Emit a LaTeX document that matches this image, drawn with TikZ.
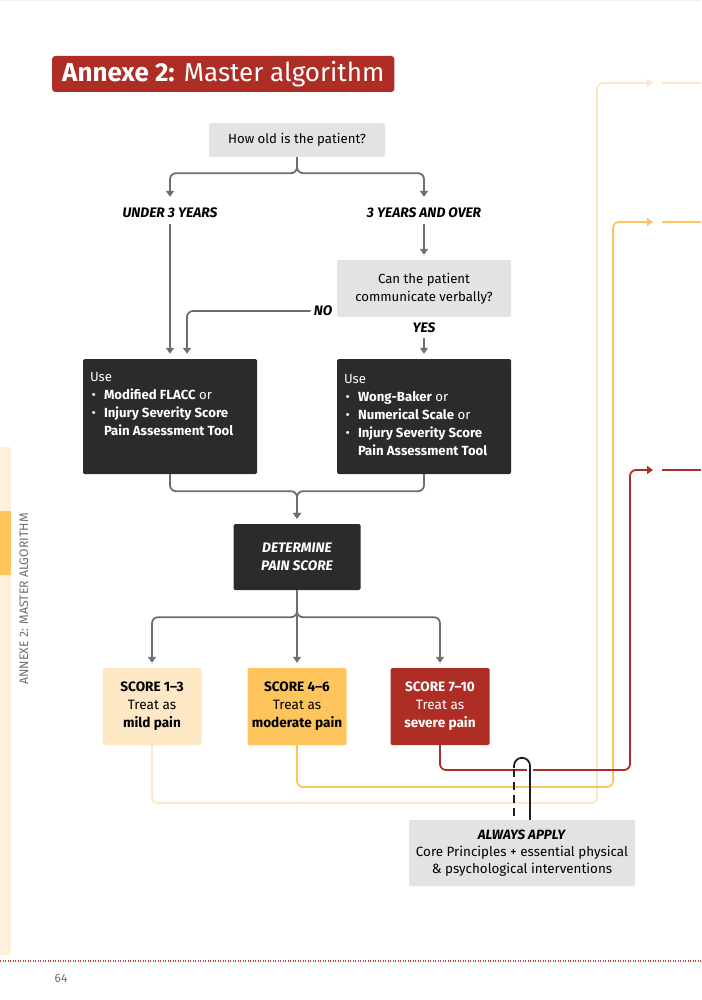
\documentclass[tikz,border=0pt]{standalone}
\usepackage{fontspec}
\setmainfont{Fira Sans}
\usepackage{xcolor}
\usetikzlibrary{positioning, arrows.meta, calc}

\definecolor{algored}{HTML}{AE2E26}
\definecolor{algodark}{HTML}{2B2B2B}
\definecolor{algogrey}{HTML}{E3E3E3}
\definecolor{algopeach}{HTML}{FDE7C4}
\definecolor{algoorange}{HTML}{FEC55D}
\definecolor{algoline}{HTML}{6E6E6E}
\definecolor{algoside}{HTML}{FEF1DB}
\definecolor{algotext}{HTML}{6F6F6F}
\definecolor{algoblack}{HTML}{1E1E1E}
\definecolor{algodots}{HTML}{C8463C}

\newcommand{\bodysize}{\fontsize{13.2}{18}\selectfont}
\newcommand{\pitem}[1]{\makebox[14pt][l]{\hspace{1.5pt}\textbullet}#1}
\newcommand{\pcont}[1]{\hspace*{14pt}#1}

\begin{document}
\begin{tikzpicture}[
    x=1pt, y=-1pt,
    every node/.style={font=\bodysize, inner sep=0pt},
    question/.style={fill=algogrey, rounded corners=1.5pt, align=center},
    toolbox/.style={fill=algodark, text=white, rounded corners=1.5pt, inner xsep=7pt, inner ysep=4pt},
    branch/.style={font=\fontsize{13.8}{15}\selectfont\bfseries\itshape, minimum height=22pt},
    scorebox/.style={minimum width=99pt, minimum height=77pt, rounded corners=1.5pt, align=center,
                     font=\fontsize{13.6}{18}\selectfont},
    flow/.style={draw=algoline, line width=1.8pt, rounded corners=6pt, -{Triangle[width=8pt,length=6pt]}, shorten >=5pt},
    scoreline/.style={line width=1.8pt, rounded corners=6pt},
    keepline/.style={draw=algoblack, line width=1.8pt}
]
    \useasboundingbox (0,0) rectangle (701,1000);

    % page frame
    \draw[black!6, line width=1.5pt] (0,0.75) -- (701,0.75);
    \fill[algoside] (0,447) rectangle (11,955);
    \fill[algoorange] (0,511) rectangle (11,575);
    \node[rotate=90, text=algotext, font=\fontsize{12.3}{13}\selectfont] (sidelabel) at (24,599) {ANNEXE 2: MASTER ALGORITHM};
    \draw[algodots, line width=1.2pt, dash pattern=on 1.2pt off 1.3pt] (0,961) -- (701,961);
    \node[text=algotext, font=\fontsize{12}{13}\selectfont] (pagenum) at (61,978) {64};

    % title
    \node[fill=algored, text=white, rounded corners=3pt, anchor=west, minimum height=36pt, inner xsep=10pt,
          font=\fontsize{26}{30}\selectfont] (title) at (52,74) {\textbf{Annexe 2:} Master algorithm};

    % questions and branches
    \node[question, minimum width=176pt, minimum height=34pt] (age) at (297,140) {How old is the patient?};
    \node[branch] (under) at (170,213) {UNDER 3 YEARS};
    \node[branch] (over) at (424,213) {3 YEARS AND OVER};
    \node[question, minimum width=174pt, minimum height=57pt] (verbal) at (424,288.5) {Can the patient\\communicate verbally?};
    \node[branch, minimum height=14pt, inner xsep=3pt] (no) at (323,311) {NO};
    \node[branch, minimum height=20pt] (yes) at (424,328) {YES};

    % assessment tools
    \node[toolbox] (toolsA) at (170,416.5) {\parbox[c][107pt][t]{160pt}{\raggedright\rule{0pt}{18.5pt}Use\\
        \pitem{\textbf{Modified FLACC} or}\\
        \pitem{\textbf{Injury Severity Score}}\\
        \pcont{\textbf{Pain Assessment Tool}}}};
    \node[toolbox] (toolsB) at (424,416.5) {\parbox[c][107pt][t]{160pt}{\raggedright\rule{0pt}{20pt}Use\\
        \pitem{\textbf{Wong-Baker} or}\\
        \pitem{\textbf{Numerical Scale} or}\\
        \pitem{\textbf{Injury Severity Score}}\\
        \pcont{\textbf{Pain Assessment Tool}}}};

    \node[fill=algodark, text=white, rounded corners=1.5pt, minimum width=127pt, minimum height=66pt, align=center,
          font=\fontsize{13.8}{18}\selectfont\bfseries\itshape] (painscore) at (297,557) {DETERMINE\\PAIN SCORE};

    % scores
    \node[scorebox, fill=algopeach] (mild) at (152,706.5) {\textbf{SCORE 1–3}\\Treat as\\\textbf{mild pain}};
    \node[scorebox, fill=algoorange] (moderate) at (297,706.5) {\textbf{SCORE 4–6}\\Treat as\\\textbf{moderate pain}};
    \node[scorebox, fill=algored, text=white] (severe) at (440,706.5) {\textbf{SCORE 7–10}\\Treat as\\\textbf{severe pain}};

    \node[question, minimum width=226pt, minimum height=66pt, font=\fontsize{13.4}{17}\selectfont] (always) at (522,853)
        {\textbf{\textit{ALWAYS APPLY}}\\Core Principles + essential physical\\\& psychological interventions};

    % grey connectors
    \draw[flow] (age.south) -- ++(0,16) -| (under.north);
    \draw[flow] (age.south) -- ++(0,16) -| (over.north);
    \draw[flow] (under.south) -- (toolsA.north);
    \draw[flow] (over.south) -- (verbal.north);
    \draw[flow] (no.west) -| ([xshift=17pt]toolsA.north);
    \draw[flow] (yes.south) -- (toolsB.north);
    \draw[flow] (toolsA.south) -- ++(0,17) -| (painscore.north);
    \draw[flow] (toolsB.south) -- ++(0,17) -| (painscore.north);
    \draw[flow] (painscore.south) -- ++(0,27) -| (mild.north);
    \draw[flow] (painscore.south) -- (moderate.north);
    \draw[flow] (painscore.south) -- ++(0,27) -| (severe.north);

    % coloured routes to the next pages
    \coordinate (mildturn) at (597,803);
    \coordinate (mildend) at (653,83);
    \coordinate (mildgap) at (662,83);
    \coordinate (mildedge) at (701,83);
    \coordinate (moderateturn) at (613,787);
    \coordinate (moderateend) at (653,222);
    \coordinate (moderategap) at (662,222);
    \coordinate (moderateedge) at (701,222);
    \coordinate (severeturn) at (630,770);
    \coordinate (severeend) at (653,470);
    \coordinate (severegap) at (662,470);
    \coordinate (severeedge) at (701,470);

    \draw[scoreline, algopeach, -{Triangle[width=8pt,length=6pt]}] (mild.south) |- (mildturn) |- (mildend);
    \draw[scoreline, algopeach] (mildgap) -- (mildedge);
    \draw[scoreline, algoorange, -{Triangle[width=8pt,length=6pt]}] (moderate.south) |- (moderateturn) |- (moderateend);
    \draw[scoreline, algoorange] (moderategap) -- (moderateedge);
    \draw[scoreline, algored, -{Triangle[width=8pt,length=6pt]}] (severe.south) |- (severeturn) |- (severeend);
    \draw[scoreline, algored] (severegap) -- (severeedge);

    % always apply
    \draw[white, line width=6pt] ([xshift=8pt, yshift=44pt]always.north) -- ++(0,-12);
    \draw[keepline] ([xshift=8pt]always.north) -- ++(0,-54) arc[start angle=0, end angle=180, radius=8pt] -- ++(0,2);
    \draw[keepline, dash pattern=on 8pt off 5pt] ([xshift=-8pt, yshift=51pt]always.north) -- ([xshift=-8pt]always.north);
\end{tikzpicture}
\end{document}
